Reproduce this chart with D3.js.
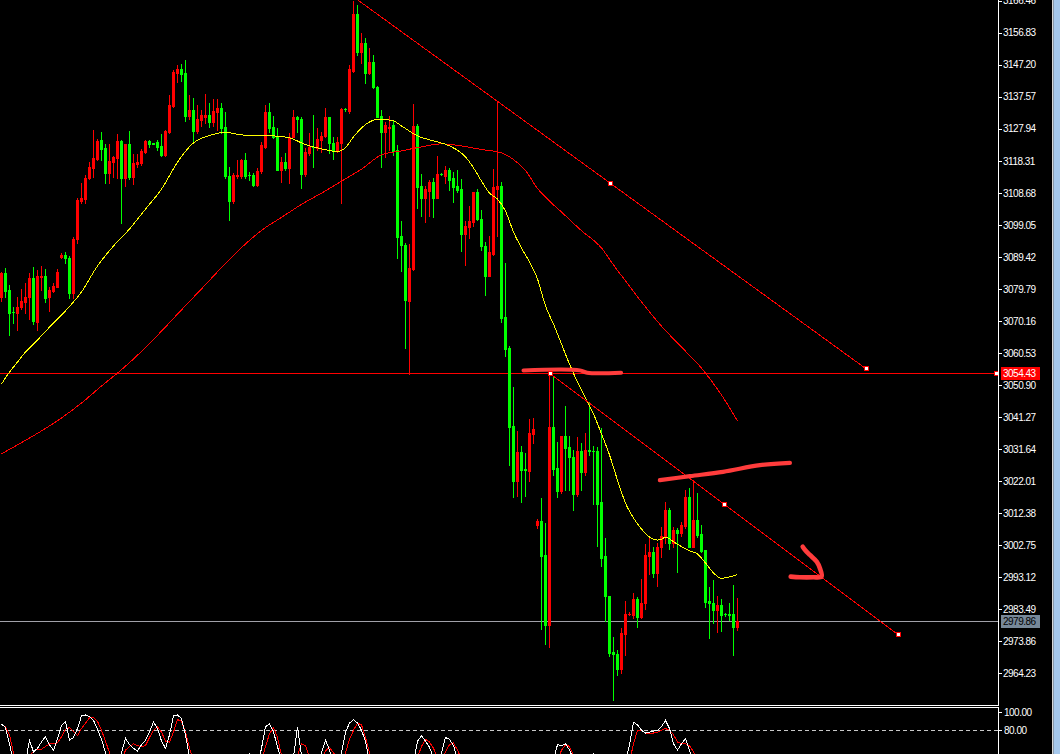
<!DOCTYPE html>
<html><head><meta charset="utf-8">
<script src="https://cdn.jsdelivr.net/npm/d3@7"></script>
<style>html,body{margin:0;padding:0;background:#000;overflow:hidden}svg{display:block}</style>
</head><body><svg id="c" width="1060" height="754"></svg>
<script>
// ---------- DATA ----------
const opens=[3077.5,3084.7,3079.5,3073.0,3072.7,3074.3,3076.0,3077.3,3083.0,3070.0,
3083.3,3083.7,3077.3,3079.3,3080.5,3089.5,3090.0,3089.0,3078.7,3094.7,
3106.3,3106.9,3113.0,3116.3,3118.9,3124.5,3122.1,3114.7,3118.0,3119.3,
3124.3,3113.2,3123.3,3113.5,3117.3,3117.7,3121.0,3124.3,3123.6,3124.0,
3122.7,3120.0,3127.0,3134.7,3144.7,3145.8,3144.7,3131.7,3133.5,3127.2,
3130.5,3131.4,3132.1,3130.1,3133.1,3134.1,3128.6,3113.8,3106.3,3113.6,
3113.8,3118.6,3114.0,3114.1,3111.1,3115.1,3122.6,3133.1,3128.6,3125.6,
3115.6,3118.1,3116.1,3125.6,3131.4,3130.9,3114.4,3120.8,3122.6,3122.1,
3124.6,3125.8,3131.4,3123.8,3121.6,3123.8,3133.9,3133.3,3145.4,3162.4,
3151.1,3153.6,3144.8,3148.1,3140.6,3131.8,3127.1,3128.1,3129.1,3121.6,
3095.8,3093.1,3076.1,3085.8,3128.8,3110.8,3107.1,3109.3,3111.8,3107.1,
3114.4,3113.6,3115.4,3113.1,3110.6,3109.8,3096.4,3098.4,3099.8,3108.8,
3100.8,3092.8,3083.8,3090.4,3109.8,3110.6,3071.3,3061.9,3038.6,3021.9,
3030.9,3025.6,3025.2,3036.2,3008.9,3009.9,2999.9,2978.9,3038.2,3025.9,
3018.9,3035.6,3032.2,3029.4,3018.2,3031.2,3024.9,3031.4,3031.2,3031.2,
3015.6,2999.4,2987.6,2970.7,2970.0,2965.4,2976.0,2982.0,2981.8,2986.5,
2981.1,2985.3,2999.5,3000.8,2994.5,3002.1,3005.3,3013.3,3003.5,3007.3,
3006.5,3008.5,3017.3,3002.3,3010.3,3006.1,3001.3,2986.1,2985.5,2983.3,
2984.8,2982.2,2982.1,2982.1,2978.1];
const highs=[3085.0,3086.0,3081.0,3074.5,3077.5,3079.7,3081.5,3084.7,3086.3,3085.5,
3086.7,3085.7,3080.3,3081.5,3085.7,3090.7,3091.0,3089.7,3095.5,3107.0,
3111.5,3114.0,3118.0,3127.7,3125.0,3127.0,3123.3,3123.5,3119.9,3126.3,
3124.7,3123.5,3127.2,3120.5,3120.5,3122.0,3124.7,3124.7,3123.8,3124.7,
3126.3,3127.7,3138.0,3145.5,3147.0,3147.5,3148.7,3138.0,3137.3,3135.0,
3133.7,3138.4,3135.6,3136.8,3136.9,3135.6,3133.0,3116.6,3114.6,3118.6,
3118.8,3120.8,3115.0,3114.6,3116.1,3124.1,3135.1,3135.8,3131.8,3128.1,
3119.4,3120.6,3126.6,3133.6,3131.8,3131.4,3122.1,3126.8,3132.1,3128.1,
3127.1,3134.1,3131.6,3125.6,3125.6,3134.1,3134.1,3147.1,3166.46,3165.1,
3156.6,3155.1,3152.1,3150.1,3140.8,3133.6,3130.1,3131.8,3130.6,3123.1,
3100.1,3093.6,3093.4,3135.4,3129.4,3114.4,3110.6,3112.6,3113.1,3119.8,
3114.6,3116.8,3116.1,3114.8,3115.6,3112.8,3100.1,3104.8,3108.8,3109.8,
3103.6,3093.8,3095.8,3115.8,3136.4,3111.8,3087.7,3062.5,3050.4,3037.2,
3032.6,3030.6,3040.6,3040.9,3010.6,3016.9,3009.4,3054.43,3053.5,3033.9,
3035.6,3044.6,3035.6,3031.4,3035.2,3033.6,3036.6,3045.9,3032.6,3032.4,
3037.9,3004.9,2987.6,2975.2,2971.2,2977.8,2986.1,2982.6,2988.3,2987.3,
2992.5,3003.1,3004.8,3002.1,3003.5,3008.3,3015.8,3013.8,3008.3,3007.8,
3009.8,3019.3,3019.8,3022.3,3018.3,3008.8,3001.3,2990.3,2992.3,2987.5,
2986.5,2982.5,2985.3,2990.8,2986.8];
const lows=[3076.3,3077.5,3066.0,3069.5,3067.3,3073.7,3072.5,3070.7,3069.3,3067.3,
3079.5,3076.0,3073.3,3079.0,3080.3,3089.0,3087.7,3077.0,3077.0,3093.7,
3105.7,3105.7,3112.9,3113.5,3118.5,3118.5,3111.7,3111.7,3113.5,3113.0,
3099.7,3110.7,3112.7,3111.3,3116.5,3117.0,3120.7,3122.5,3123.3,3121.7,
3119.7,3119.7,3126.7,3134.5,3142.0,3142.3,3130.3,3131.0,3123.7,3126.7,
3128.7,3129.6,3128.4,3128.7,3127.6,3126.6,3113.0,3100.6,3105.6,3113.1,
3113.1,3113.1,3112.5,3110.6,3110.6,3114.6,3122.1,3127.1,3125.1,3115.4,
3111.8,3115.6,3111.6,3125.4,3127.0,3110.1,3113.6,3120.1,3116.6,3121.6,
3121.1,3125.6,3120.8,3118.8,3121.1,3105.6,3133.4,3132.6,3145.1,3150.1,
3147.6,3141.8,3144.4,3140.1,3131.4,3116.4,3119.6,3121.6,3120.1,3089.1,
3085.1,3062.1,3054.1,3085.6,3104.1,3101.6,3099.8,3101.8,3101.4,3107.1,
3114.0,3111.6,3109.6,3105.8,3108.8,3091.1,3086.9,3095.1,3098.6,3100.4,
3091.6,3078.1,3083.6,3090.1,3095.6,3069.7,3059.6,3026.9,3017.2,3017.6,
3015.6,3017.6,3021.9,3033.6,3007.9,2977.4,2972.9,2972.2,3023.9,3017.2,
3018.4,3019.4,3019.4,3013.2,3017.6,3019.2,3023.9,3029.9,3015.2,3002.4,
2996.4,2979.9,2969.4,2956.2,2963.7,2964.4,2969.7,2981.8,2980.8,2978.3,
2980.8,2983.5,2994.1,2993.1,2990.5,2999.3,3003.3,3001.5,3002.1,2994.8,
3005.5,3007.8,3002.1,3002.1,3005.1,3000.8,2984.3,2974.8,2979.3,2976.5,
2976.8,2981.6,2980.3,2969.7,2977.1];
const closes=[3084.7,3079.3,3072.7,3072.9,3074.5,3076.3,3077.5,3083.0,3070.3,3083.7,
3083.7,3077.2,3079.5,3080.7,3085.0,3090.0,3089.0,3078.7,3094.9,3106.5,
3107.1,3113.0,3116.5,3119.3,3124.3,3121.9,3114.7,3118.2,3119.5,3124.3,
3113.2,3123.3,3113.3,3117.6,3118.0,3121.2,3124.3,3123.5,3123.5,3122.5,
3120.0,3127.3,3135.0,3145.0,3145.8,3144.3,3131.7,3133.5,3127.2,3130.8,
3132.0,3132.1,3130.1,3133.3,3134.1,3128.3,3113.6,3106.3,3113.9,3114.1,
3118.6,3113.8,3113.9,3111.1,3115.1,3123.1,3133.1,3128.3,3125.6,3115.6,
3118.1,3116.1,3125.6,3131.4,3130.8,3114.4,3121.1,3122.6,3122.5,3124.8,
3125.8,3131.4,3123.6,3121.6,3123.9,3133.9,3133.8,3145.8,3162.6,3151.1,
3153.6,3144.8,3148.1,3140.4,3131.6,3127.1,3129.1,3128.6,3121.4,3095.4,
3092.9,3076.4,3086.1,3128.8,3110.4,3107.1,3109.8,3111.8,3107.1,3114.4,
3114.3,3115.4,3112.6,3110.4,3109.6,3096.4,3098.6,3100.1,3108.8,3100.8,
3092.6,3083.8,3090.8,3110.3,3110.6,3071.0,3061.6,3038.4,3021.9,3030.9,
3025.4,3025.5,3036.4,3037.6,3009.9,2999.6,2978.9,3038.2,3025.6,3018.9,
3035.6,3031.9,3029.2,3018.2,3031.2,3024.9,3031.4,3031.1,3031.0,3015.2,
2998.9,2987.6,2970.4,2969.9,2965.4,2976.4,2982.1,2982.2,2986.5,2981.1,
2985.3,2999.8,3000.8,2994.5,3002.1,3005.5,3013.3,3003.5,3007.3,3006.5,
3008.8,3017.3,3002.3,3010.3,3005.8,3001.1,2985.8,2985.3,2983.3,2984.8,
2981.8,2982.0,2981.8,2978.1,2979.86];

// moving averages (read at candle indices)
const maFastIdx=[0,2,4,6,8,12,16,20,24,28,32,36,40,44,48,52,56,60,64,68,72,76,80,84,86,88,90,92,94,96,98,100,104,108,112,116,118,120,122,124,126,128,130,132,134,136,138,140,142,144,146,148,150,152,154,156,158,160,162,164,165,166,168,170,172,174,176,178,180,182,184];
const maFastVal=[3051.2,3054.8,3057.8,3060.8,3063.2,3068.3,3073.2,3078.9,3086.7,3092.7,3097.8,3103.8,3109.8,3117.9,3123.7,3125.9,3126.9,3126.1,3125.9,3125.8,3125.2,3123.2,3121.9,3121.1,3122.3,3125.5,3128.2,3130.0,3130.8,3130.7,3130.3,3128.8,3125.8,3124.3,3122.8,3119.5,3116.2,3112.2,3108.6,3106.8,3103.2,3096.9,3092.1,3087.9,3082.8,3074.7,3069.2,3063.2,3057.2,3051.8,3047.0,3042.2,3036.2,3029.9,3022.3,3015.4,3010.9,3007.6,3005.2,3004.3,3004.5,3005.2,3003.8,3002.3,3001.1,3000.1,2997.4,2994.4,2992.8,2993.2,2993.9];
const maSlowIdx=[0,5,10,15,20,25,30,35,40,45,50,55,60,65,70,75,80,85,90,95,100,105,110,115,120,125,128,131,134,137,140,145,150,153,156,160,165,170,175,180,184];
const maSlowVal=[3030.2,3033.6,3037.1,3041.0,3045.5,3050.6,3055.5,3061.0,3067.1,3073.5,3079.8,3086.2,3092.2,3097.4,3101.3,3105.2,3108.6,3112.2,3115.8,3120.1,3121.3,3122.5,3123.4,3122.8,3121.7,3120.7,3118.7,3115.4,3110.0,3106.2,3102.9,3097.3,3092.1,3087.0,3082.2,3075.9,3068.6,3062.3,3056.0,3047.9,3040.1];

// stochastic oscillator (%K white, %D red)
const stochK=[87,83,65,45,35,30,45,69,56,60,
67,73,64,58,71,85,90,69,72,82,
96,97,95,91,81,70,55,40,30,40,
55,71,64,60,57,64,69,78,89,82,
68,60,75,96,97,93,75,50,35,25,
30,35,28,22,30,35,20,10,8,20,
30,35,54,45,40,60,84,87,78,62,
45,35,30,50,84,52,40,35,30,40,
55,69,58,45,40,55,78,88,92,88,
80,68,45,30,25,15,12,18,20,15,
8,5,20,45,68,74,68,61,50,42,
55,72,70,63,48,38,20,22,30,40,
35,30,25,40,54,15,8,5,5,10,
20,18,25,35,38,15,10,30,48,64,
63,65,58,48,35,45,40,45,54,40,
25,15,10,5,8,20,45,64,89,86,
80,77,78,79,80,84,91,82,65,58,
65,71,58,45,42,38,30,15,12,15,
18,15,16,18,20];
const stochD=[86,84,75,55,45,38,40,50,57,59,
59,62,65,65,66,73,81,83,79,74,
82,88,94,94,90,80,68,55,45,35,
45,58,62,65,63,62,63,72,80,84,
78,68,67,78,92,90,78,60,45,35,
30,30,31,28,27,29,28,22,13,13,
20,28,40,45,45,45,62,76,83,72,
52,45,37,40,52,65,63,50,35,35,
45,57,61,55,48,40,55,70,80,88,
86,72,55,40,30,22,18,15,17,18,
14,10,11,35,50,62,70,67,60,50,
42,56,64,66,58,48,35,27,24,30,
35,35,30,32,40,36,26,10,6,7,
12,16,21,26,33,29,21,18,30,45,
58,64,62,52,45,43,40,43,46,46,
40,27,17,10,8,11,25,45,65,80,
80,77,77,77,78,80,82,80,75,67,
65,65,63,56,48,40,37,28,19,14,
15,16,16,16,18];

const priceTicks=[3166.46,3156.83,3147.20,3137.57,3127.94,3118.31,3108.68,3099.05,3089.42,3079.79,3070.16,3060.53,3050.90,3041.27,3031.64,3022.01,3012.38,3002.75,2993.12,2983.49,2973.86,2964.23];
const stochTicks=[100,80];
const stochLevel=80;

// objects
const hLinePrice=3054.43, hLineAnchorIdx=248.6;
const bidPrice=2979.86;
const trend1=[[88,3167.6],[216,3055.9]];
const trend2=[[137,3054.43],[224,2976.0]];
const mark1=[[130.5,3055.3],[144.6,3055.3],[146.4,3054.6],[154.9,3054.6]];
const mark2=[[164.6,3022.3],[172.1,3023.5],[180.4,3024.8],[189.6,3026.8],[197.1,3027.5]];
const mark3=[[200.3,3002.3],[200.9,3001.3],[202.1,2999.8],[203.8,2997.8],[204.6,2995.8],[205.0,2993.3],[202.9,2993.1],[199.6,2993.1],[197.3,2993.3]];

// ---------- DRAW ----------
const svg=d3.select('#c');
const PR=998; // plot right edge
const xS=d3.scaleLinear().domain([0,1]).range([1.5,5.5]);
const yS=d3.scaleLinear().domain([2964.23,3156.83]).range([673.3,32.7]);
const sS=d3.scaleLinear().domain([0,100]).range([802.3,712.3]);
const FONT='"Liberation Sans", Arial, sans-serif';

svg.append('rect').attr('width',1060).attr('height',754).attr('fill','#000');
const defs=svg.append('defs');
defs.append('clipPath').attr('id','cm').append('rect').attr('x',0).attr('y',0).attr('width',PR).attr('height',705);
defs.append('clipPath').attr('id','cs').append('rect').attr('x',0).attr('y',708).attr('width',PR).attr('height',46);

const main=svg.append('g').attr('clip-path','url(#cm)');
const crisp=v=>Math.round(v)+0.5;

// bid line & horizontal object line
main.append('line').attr('x1',0).attr('x2',PR).attr('y1',crisp(yS(bidPrice))).attr('y2',crisp(yS(bidPrice)))
  .attr('stroke','#a0a0a8').attr('stroke-width',1).attr('shape-rendering','crispEdges');
main.append('line').attr('x1',0).attr('x2',PR).attr('y1',crisp(yS(hLinePrice))).attr('y2',crisp(yS(hLinePrice)))
  .attr('stroke','#ff0000').attr('stroke-width',1).attr('shape-rendering','crispEdges');

// candles
const candles=opens.map((o,i)=>({i,o,h:highs[i],l:lows[i],c:closes[i]}));
const col=d=>d.c>=d.o?'#ff0000':'#00ff00';
const cg=main.append('g').attr('shape-rendering','crispEdges');
cg.selectAll('rect.w').data(candles).join('rect').attr('class','w')
  .attr('x',d=>xS(d.i)-0.5).attr('width',1)
  .attr('y',d=>Math.round(yS(d.h))).attr('height',d=>Math.max(1,Math.round(yS(d.l))-Math.round(yS(d.h))+1))
  .attr('fill',col);
cg.selectAll('rect.b').data(candles).join('rect').attr('class','b')
  .attr('x',d=>xS(d.i)-1.5).attr('width',3)
  .attr('y',d=>Math.round(yS(Math.max(d.o,d.c))))
  .attr('height',d=>Math.max(1,Math.round(yS(Math.min(d.o,d.c)))-Math.round(yS(Math.max(d.o,d.c)))+1))
  .attr('fill',col);

// moving averages
const line=d3.line().x(d=>xS(d[0])).y(d=>yS(d[1])).curve(d3.curveMonotoneX);
main.append('path').attr('d',line(maSlowIdx.map((k,j)=>[k,maSlowVal[j]])))
  .attr('fill','none').attr('stroke','#ff0000').attr('stroke-width',1).attr('shape-rendering','crispEdges');
main.append('path').attr('d',line(maFastIdx.map((k,j)=>[k,maFastVal[j]])))
  .attr('fill','none').attr('stroke','#ffff00').attr('stroke-width',1).attr('shape-rendering','crispEdges');

// trend lines
const straight=d3.line().x(d=>xS(d[0])).y(d=>yS(d[1]));
[trend1,trend2].forEach(t=>{
  main.append('path').attr('d',straight(t)).attr('fill','none').attr('stroke','#ff0000').attr('stroke-width',1).attr('shape-rendering','crispEdges');
});

// hand drawn marks
const free=d3.line().x(d=>xS(d[0])).y(d=>yS(d[1])).curve(d3.curveCatmullRom.alpha(0.5));
[[mark1,4],[mark2,4.2],[mark3,4.6]].forEach(([m,w])=>{
  main.append('path').attr('d',free(m)).attr('fill','none').attr('stroke','#ff3c3c')
    .attr('stroke-width',w).attr('stroke-linecap','round').attr('stroke-linejoin','round');
});

// anchor squares
const squares=[
  [(trend1[0][0]+trend1[1][0])/2,(trend1[0][1]+trend1[1][1])/2], trend1[1],
  trend2[0],[(trend2[0][0]+trend2[1][0])/2,(trend2[0][1]+trend2[1][1])/2], trend2[1],
  [hLineAnchorIdx,hLinePrice]
];
main.append('g').attr('shape-rendering','crispEdges').selectAll('rect').data(squares).join('rect')
  .attr('x',d=>Math.round(xS(d[0]))-2+0.5).attr('y',d=>Math.round(yS(d[1]))-2+0.5)
  .attr('width',4).attr('height',4).attr('fill','#ffffff').attr('stroke','#ff0000').attr('stroke-width',1);

// ---------- frames ----------
const fr=svg.append('g').attr('stroke','#ffffff').attr('stroke-width',1).attr('shape-rendering','crispEdges');
fr.append('line').attr('x1',PR+0.5).attr('x2',PR+0.5).attr('y1',0).attr('y2',705);
fr.append('line').attr('x1',0).attr('x2',PR+1).attr('y1',705.5).attr('y2',705.5);
fr.append('line').attr('x1',0).attr('x2',PR+1).attr('y1',707.5).attr('y2',707.5);
fr.append('line').attr('x1',PR+0.5).attr('x2',PR+0.5).attr('y1',707).attr('y2',754);

// right strip
svg.append('rect').attr('x',1052).attr('y',0).attr('width',1.5).attr('height',754).attr('fill','#d8d8d8');
svg.append('rect').attr('x',1053.5).attr('y',0).attr('width',6.5).attr('height',754).attr('fill','#a6c8ec');

// price axis
const ax=svg.append('g').attr('transform',`translate(${PR},0)`)
  .call(d3.axisRight(yS).tickValues(priceTicks).tickSize(4).tickPadding(1).tickFormat(d3.format('.2f')));
ax.select('.domain').remove();
ax.selectAll('line').attr('stroke','#ffffff').attr('shape-rendering','crispEdges');
ax.selectAll('text').attr('fill','#ffffff').attr('font-family',FONT).attr('font-size',10).attr('letter-spacing','-0.5px');

// labels for lines
function tag(price,bg,fg){
  const yy=Math.round(yS(price));
  svg.append('rect').attr('x',1001).attr('y',yy-6).attr('width',39).attr('height',13).attr('fill',bg);
  svg.append('text').attr('x',1003).attr('y',yy).attr('dy','0.35em').attr('fill',fg)
    .attr('font-family',FONT).attr('font-size',10).attr('letter-spacing','-0.5px').text(d3.format('.2f')(price));
}
tag(hLinePrice,'#ff0000','#ffffff');
tag(bidPrice,'#778899','#000000');

// ---------- stochastic panel ----------
const sp=svg.append('g').attr('clip-path','url(#cs)');
sp.append('line').attr('x1',0).attr('x2',PR).attr('y1',crisp(sS(stochLevel))).attr('y2',crisp(sS(stochLevel)))
  .attr('stroke','#c8c8c8').attr('stroke-dasharray','4,3').attr('shape-rendering','crispEdges');
const sl=d3.line().x((d,i)=>xS(i)).y(d=>sS(d));
sp.append('path').attr('d',sl(stochD)).attr('fill','none').attr('stroke','#ff0000').attr('stroke-width',1).attr('shape-rendering','crispEdges');
sp.append('path').attr('d',sl(stochK)).attr('fill','none').attr('stroke','#ffffff').attr('stroke-width',1).attr('shape-rendering','crispEdges');

const sax=svg.append('g').attr('transform',`translate(${PR},0)`)
  .call(d3.axisRight(sS).tickValues(stochTicks).tickSize(4).tickPadding(2).tickFormat(d3.format('.2f')));
sax.select('.domain').remove();
sax.selectAll('line').attr('stroke','#ffffff').attr('shape-rendering','crispEdges');
sax.selectAll('text').attr('fill','#ffffff').attr('font-family',FONT).attr('font-size',10).attr('letter-spacing','-0.5px');
</script>
</body></html>
